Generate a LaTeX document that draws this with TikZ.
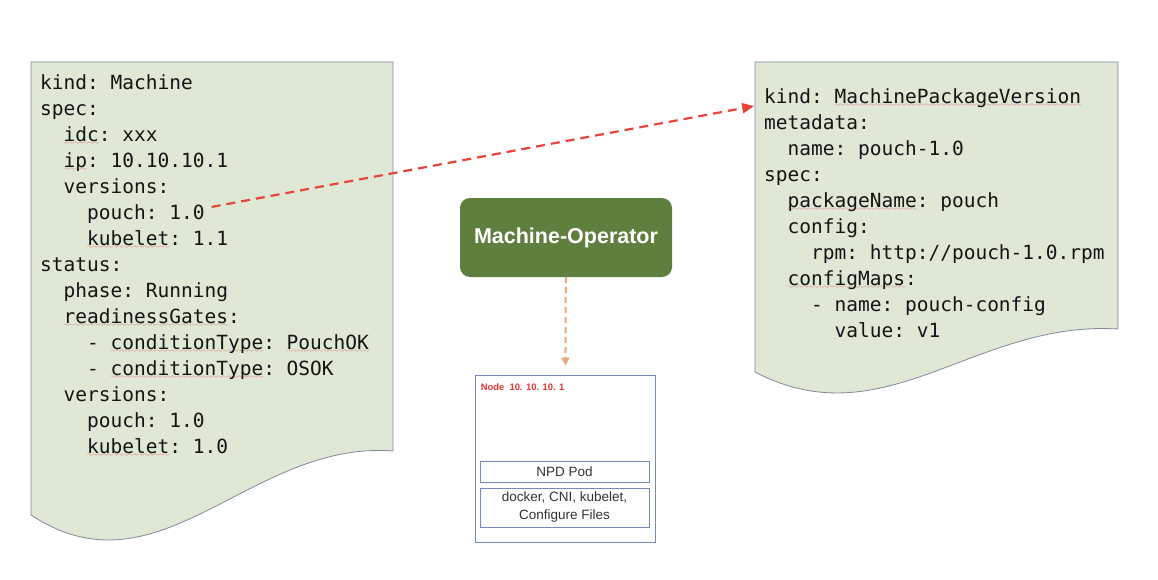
\documentclass[tikz,border=0pt]{standalone}
\usepackage{fontspec}
\setsansfont{Liberation Sans}
\newfontfamily\yamlfont{DejaVu Sans Mono}
\usetikzlibrary{matrix}
\usetikzlibrary{positioning}
\usetikzlibrary{arrows.meta}

\definecolor{docfill}{RGB}{222,232,213}
\definecolor{docborder}{RGB}{128,138,152}
\definecolor{yamltext}{RGB}{20,20,20}
\definecolor{linkred}{RGB}{232,68,58}
\definecolor{spellred}{RGB}{226,80,80}
\definecolor{operatorgreen}{RGB}{95,127,63}
\definecolor{callorange}{RGB}{234,170,125}
\definecolor{hostblue}{RGB}{118,138,185}
\definecolor{hostred}{RGB}{228,52,48}

% wavy spell-check underline
\font\wavefont=lasy6
\newsavebox{\typobox}
\newcommand{\typo}[1]{\sbox{\typobox}{#1}%
    \rlap{\lower3.5pt\hbox to \wd\typobox{\color{spellred}\xleaders\hbox{\wavefont\char58}\hfill}}%
    \usebox{\typobox}}

\tikzset{yamldoc/.style={draw=docborder,
                        fill=docfill,
                        line width=0.8pt
                        },
        yamlmatrix/.style={matrix of nodes,
                        inner sep=0pt,
                        row sep=0pt,
                        nodes={anchor=base west, inner sep=0pt, text height=18pt, text depth=8pt,
                               text=yamltext, font=\yamlfont\fontsize{19.5}{26}\selectfont\frenchspacing}
        },
        operator/.style={rectangle,
                        rounded corners=10pt,
                        fill=operatorgreen,
                        text=white,
                        minimum width=212pt,
                        minimum height=79pt,
                        font=\sffamily\bfseries\fontsize{21.5}{24}\selectfont
        },
        hostbox/.style={rectangle,
                        draw=hostblue,
                        line width=0.8pt,
                        minimum width=180pt,
                        minimum height=167pt
        },
        podbox/.style={rectangle,
                        draw=hostblue,
                        line width=0.8pt,
                        minimum width=169pt,
                        align=center,
                        inner sep=2pt,
                        text=black!80,
                        font=\sffamily\fontsize{13.5}{18}\selectfont
        },
}

\begin{document}
\begin{tikzpicture}
    [x=1pt,y=-1pt]
    \useasboundingbox (0,0) rectangle (1158,580);

    % MACHINE
    \draw[yamldoc] (31,62) -- (393,62) -- (393,451)
        .. controls (250,440) and (160,600) .. (31,515) -- cycle;

    \matrix[yamlmatrix, anchor=north west] (machine) at (40,71) {
        kind: Machine \\
        spec: \\
        \phantom{xx}\typo{idc}: xxx \\
        \phantom{xx}\typo{ip}: 10.10.10.1 \\
        \phantom{xx}versions: \\
        \phantom{xxxx}pouch: 1.0 \\
        \phantom{xxxx}\typo{kubelet}: 1.1 \\
        status: \\
        \phantom{xx}phase: Running \\
        \phantom{xx}\typo{readinessGates}: \\
        \phantom{xxxx}- \typo{conditionType}: \typo{PouchOK} \\
        \phantom{xxxx}- \typo{conditionType}: OSOK \\
        \phantom{xx}versions: \\
        \phantom{xxxx}pouch: 1.0 \\
        \phantom{xxxx}\typo{kubelet}: 1.0 \\
    };

    % MACHINE PACKAGE VERSION
    \draw[yamldoc] (755,62) -- (1118,62) -- (1118,329)
        .. controls (975,320) and (885,440) .. (755,372) -- cycle;

    \matrix[yamlmatrix, anchor=north west] (mpv) at (764,85) {
        kind: \typo{MachinePackageVersion} \\
        metadata: \\
        \phantom{xx}name: pouch-1.0 \\
        spec: \\
        \phantom{xx}\typo{packageName}: pouch \\
        \phantom{xx}config: \\
        \phantom{xxxx}rpm: http://pouch-1.0.rpm \\
        \phantom{xx}\typo{configMaps}: \\
        \phantom{xxxx}- name: pouch-config \\
        \phantom{xxxxxx}value: v1 \\
    };

    % OPERATOR AND HOST
    \node[operator] (operator) at (566,237.5) {Machine-Operator};

    \node[hostbox] (host) at (565,458.5) {};
    \node[below right=9pt and 6pt of host.north west, inner sep=0pt, text=hostred,
          font=\sffamily\bfseries\fontsize{9.4}{11}\selectfont] (hostname) {Node~~10. 10. 10. 1};

    \node[podbox, minimum height=39pt] (base) at (564.5,507.5) {docker, CNI, kubelet,\\Configure Files};
    \node[podbox, minimum height=21pt, above=5pt of base] (npd) {NPD Pod};

    \draw[-{Triangle[length=12pt,width=10pt]},linkred,line width=2.2pt,dash pattern=on 9pt off 6pt,
          shorten <=7pt,shorten >=10pt] ([yshift=6pt]machine-6-1.east) -- ([yshift=-6pt]mpv-1-1.west);
    \draw[-{Triangle[length=8pt,width=8pt]},callorange,line width=2pt,dash pattern=on 6pt off 4pt,
          shorten >=9pt] (operator) -- (host);

\end{tikzpicture}
\end{document}
